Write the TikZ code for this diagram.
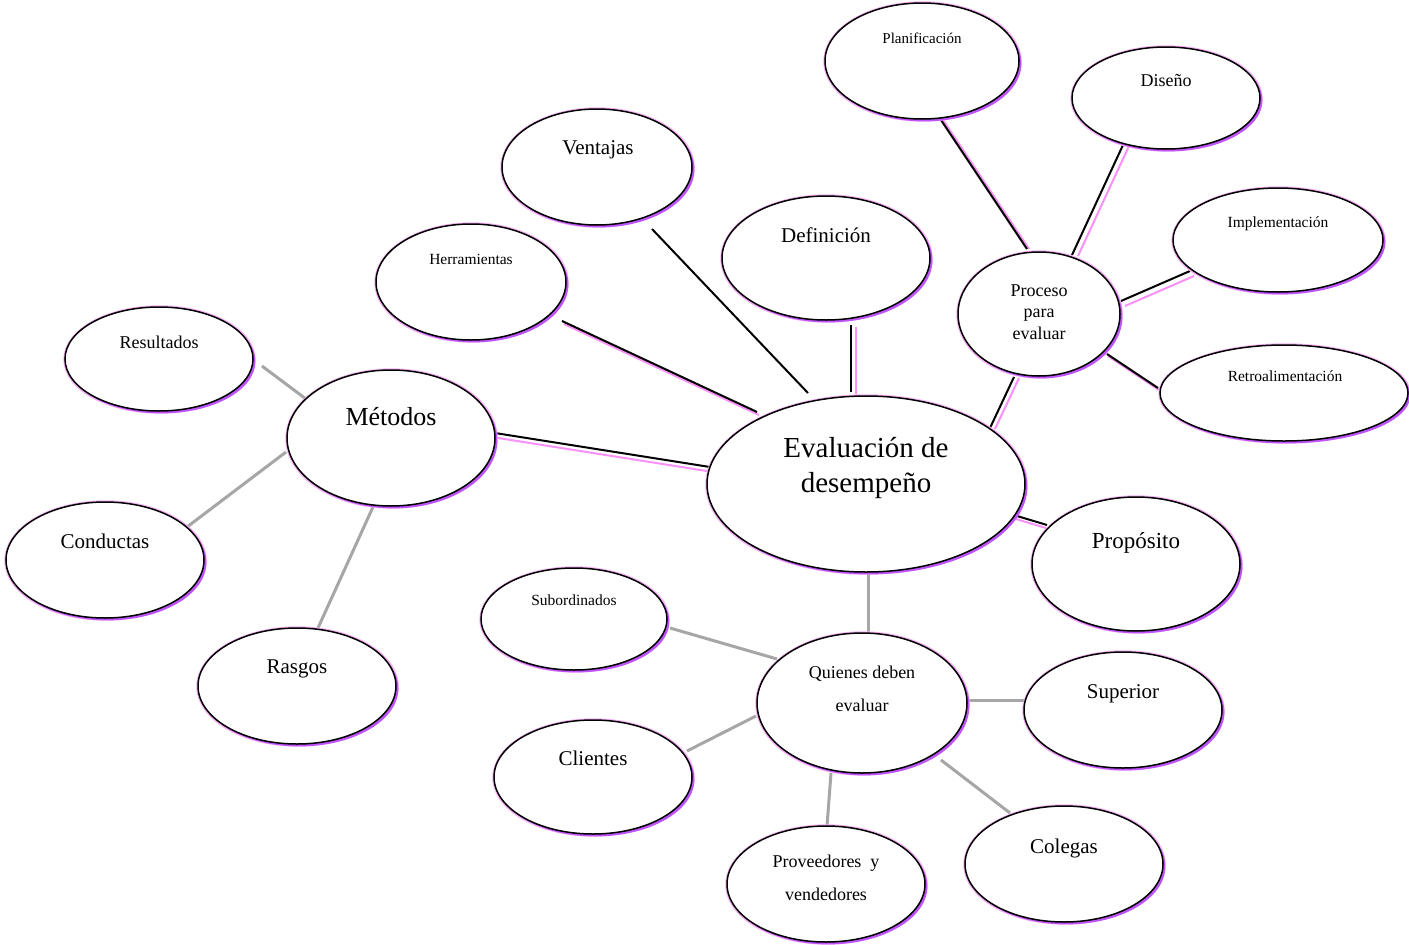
\documentclass[tikz,border=0pt]{standalone}
\usepackage{fontspec}
\setmainfont{Liberation Serif}
\usetikzlibrary{shapes.geometric,calc}

\definecolor{glowpink}{RGB}{248,175,248}
\definecolor{shadeviolet}{RGB}{190,85,250}
\definecolor{tintline}{RGB}{250,145,250}
\definecolor{linkgray}{RGB}{166,166,166}

\tikzset{
  bubble/.style={ellipse, draw=black, line width=1.5pt, fill=white, inner sep=0pt, outer sep=0pt},
  blackline/.style={draw=black, line width=2pt},
  tintedline/.style={draw=tintline, line width=2pt},
  grayline/.style={draw=linkgray, line width=3pt},
  caption/.style={inner sep=0pt, align=center},
}

% ellipse with a soft pink halo and a violet drop shadow: name, cx, cy, rx, ry
\newcommand\bubble[5]{%
  \fill[glowpink] (#2+0.5,#3+0.5) ellipse [x radius=#4pt+2.2pt, y radius=#5pt+2.2pt];
  \fill[shadeviolet] (#2+2.4,#3+2.4) ellipse [x radius=#4pt, y radius=#5pt];
  \node[bubble, minimum width=2*#4pt, minimum height=2*#5pt] (#1) at (#2,#3) {};
}
% black connector with a pink companion line: name, x1, y1, x2, y2, dx, dy
\newcommand\doublelink[7]{%
  \coordinate (#1-a) at (#2,#3);
  \coordinate (#1-b) at (#4,#5);
  \draw[tintedline] ($(#1-a)+(#6,#7)$) -- ($(#1-b)+(#6,#7)$);
  \draw[blackline] (#1-a) -- (#1-b);
}
% plain gray connector: name, x1, y1, x2, y2
\newcommand\graylink[5]{%
  \coordinate (#1-a) at (#2,#3);
  \coordinate (#1-b) at (#4,#5);
  \draw[grayline] (#1-a) -- (#1-b);
}

\begin{document}
\begin{tikzpicture}[x=1pt,y=-1pt]
\useasboundingbox (0,0) rectangle (1409,945);

% connectors
\doublelink{metEval}{495}{433}{710}{467}{3}{5}
\doublelink{herrEval}{562}{321}{757}{412}{2}{3}
\coordinate (ventEval-a) at (652,229);
\coordinate (ventEval-b) at (808,393);
\draw[blackline] (ventEval-a) -- (ventEval-b);
\doublelink{defEval}{851}{325}{851}{392}{5}{2}
\doublelink{procEval}{1014}{377}{990}{428}{5}{1}
\doublelink{propEval}{1017}{516}{1047}{525}{-1}{3}
\doublelink{planProc}{941}{120}{1027}{249}{2}{0}
\doublelink{disProc}{1123}{145}{1072}{255}{6}{1}
\doublelink{implProc}{1190}{271}{1121}{301}{4}{5}
\doublelink{retroProc}{1107}{354}{1158}{388}{1}{2}

\graylink{resMet}{262}{366}{306}{399}
\graylink{metCond}{286}{452}{187}{527}
\graylink{metRas}{373}{507}{318}{628}
\graylink{evalQuien}{868}{573}{868}{632}
\graylink{quienSub}{670}{628}{777}{659}
\graylink{quienCli}{756}{716}{687}{751}
\graylink{quienSup}{967}{700}{1024}{700}
\graylink{quienProv}{831}{773}{827}{826}
\graylink{quienCol}{941}{760}{1010}{813}

% ellipses
\bubble{eval}{866}{484}{159}{88}
\bubble{proceso}{1039}{314}{81}{62}
\bubble{plan}{922}{61}{97}{58}
\bubble{diseno}{1166}{98}{94}{51}
\bubble{impl}{1278}{240}{105}{52}
\bubble{retro}{1284}{393}{124}{48}
\bubble{def}{826}{258}{104}{62}
\bubble{vent}{597}{167}{95}{58}
\bubble{herr}{471}{282}{95}{58}
\bubble{met}{391}{438}{104}{68}
\bubble{res}{159}{359}{94}{52}
\bubble{cond}{105}{560}{99}{58}
\bubble{ras}{297}{686}{99}{58}
\bubble{prop}{1136}{564}{104}{67}
\bubble{quien}{862}{703}{105}{70}
\bubble{sub}{574}{619}{93}{51}
\bubble{sup}{1123}{710}{99}{58}
\bubble{cli}{593}{777}{99}{57}
\bubble{prov}{826}{884}{99}{58}
\bubble{col}{1064}{864}{99}{58}

% labels
\node[caption, font=\fontsize{29}{35}\selectfont] (eval-t) at (866,468) {Evaluación de\\desempeño};
\node[caption, font=\fontsize{18}{21.5}\selectfont] (proceso-t) at (1039,312) {Proceso\\para\\evaluar};
\node[caption, font=\fontsize{15}{18}\selectfont] (plan-t) at (922,38) {Planificación};
\node[caption, font=\fontsize{18}{21}\selectfont] (diseno-t) at (1166,81) {Diseño};
\node[caption, font=\fontsize{15.5}{18}\selectfont] (impl-t) at (1278,224) {Implementación};
\node[caption, font=\fontsize{15.5}{18}\selectfont] (retro-t) at (1285,376) {Retroalimentación};
\node[caption, font=\fontsize{21}{25}\selectfont] (def-t) at (826,235) {Definición};
\node[caption, font=\fontsize{21}{25}\selectfont] (vent-t) at (598,150) {Ventajas};
\node[caption, font=\fontsize{15.5}{18}\selectfont] (herr-t) at (471,259) {Herramientas};
\node[caption, font=\fontsize{26}{30}\selectfont] (met-t) at (391,417) {Métodos};
\node[caption, font=\fontsize{18}{21}\selectfont] (res-t) at (159,342) {Resultados};
\node[caption, font=\fontsize{21}{25}\selectfont] (cond-t) at (105,541) {Conductas};
\node[caption, font=\fontsize{21}{25}\selectfont] (ras-t) at (297,669) {Rasgos};
\node[caption, font=\fontsize{23}{27}\selectfont] (prop-t) at (1136,543) {Propósito};
\node[caption, font=\fontsize{18}{33}\selectfont] (quien-t) at (862,689) {Quienes deben\\evaluar};
\node[caption, font=\fontsize{15.5}{18}\selectfont] (sub-t) at (574,600) {Subordinados};
\node[caption, font=\fontsize{21}{25}\selectfont] (sup-t) at (1123,694) {Superior};
\node[caption, font=\fontsize{21}{25}\selectfont] (cli-t) at (593,758) {Clientes};
\node[caption, font=\fontsize{18}{33}\selectfont] (prov-t) at (826,878) {Proveedores~ y\\vendedores};
\node[caption, font=\fontsize{21}{25}\selectfont] (col-t) at (1064,848) {Colegas};
\end{tikzpicture}
\end{document}
